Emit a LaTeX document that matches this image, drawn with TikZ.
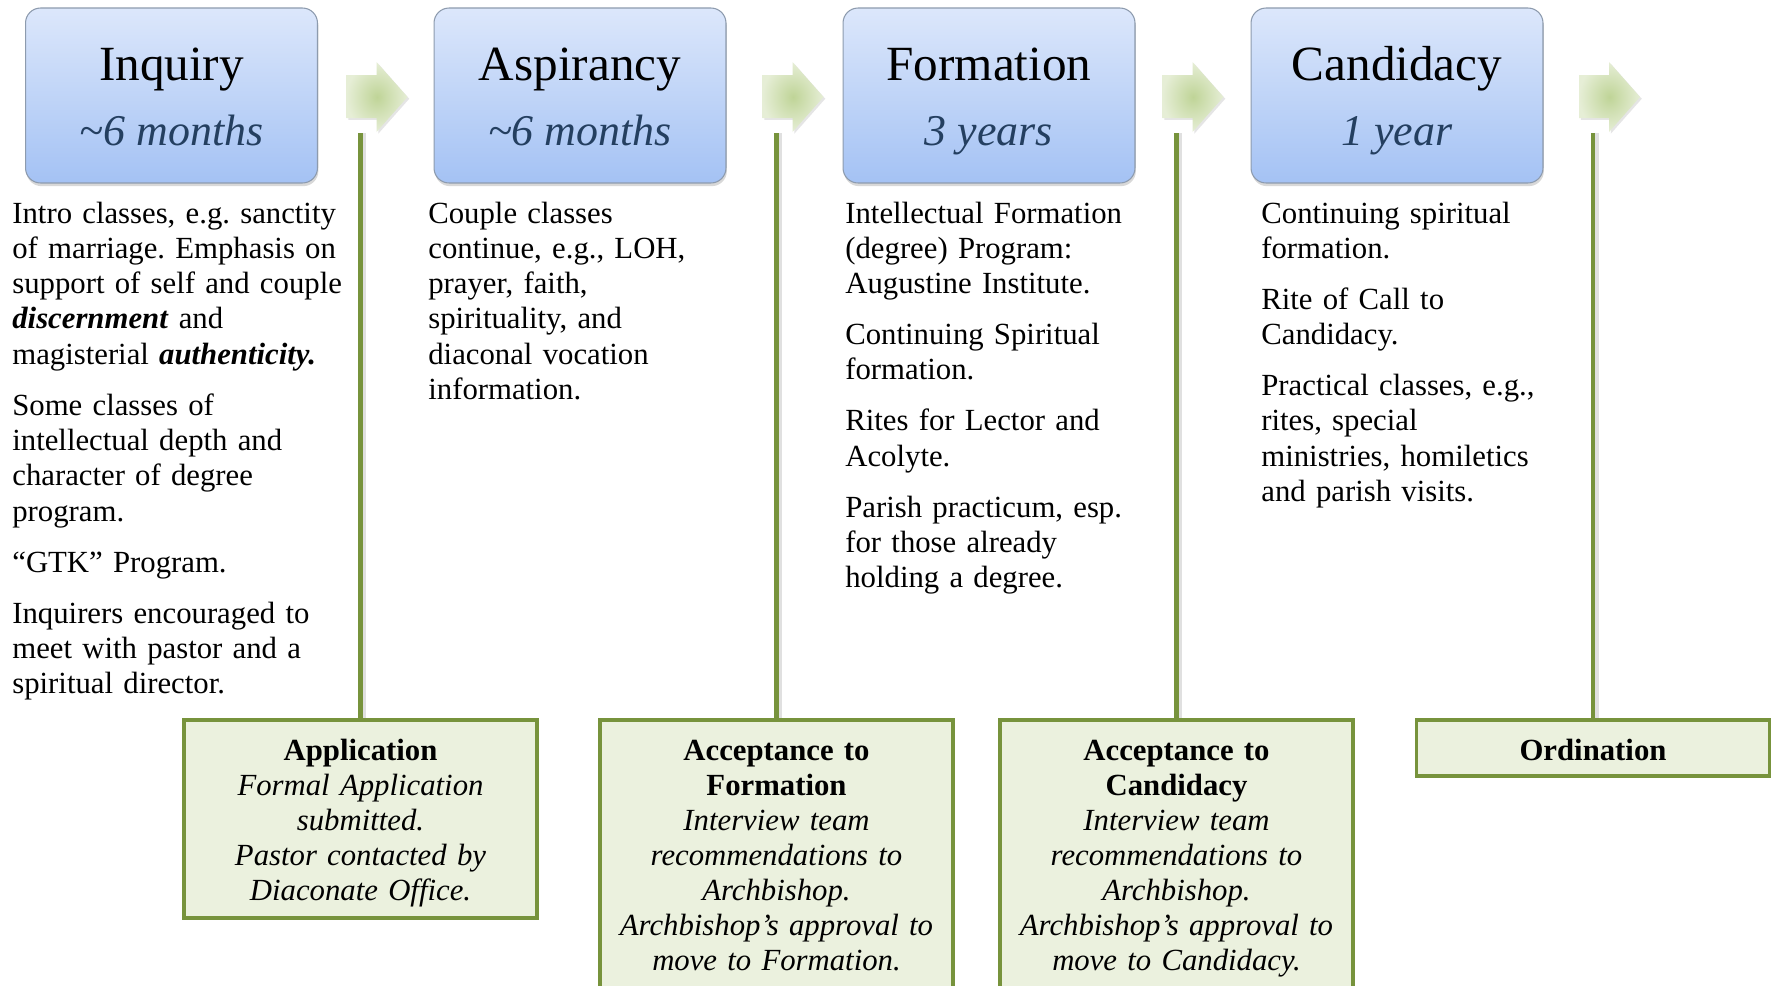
\documentclass[tikz,border=0pt]{standalone}
\usepackage{fontspec}
\setmainfont{Liberation Serif}
\usetikzlibrary{shadows,positioning}
\frenchspacing
\definecolor{stagetop}{HTML}{DCE7FB}
\definecolor{stagebot}{HTML}{A4C2F4}
\definecolor{stageline}{HTML}{8D9BAE}
\definecolor{durblue}{HTML}{243F60}
\definecolor{olive}{HTML}{77933C}
\definecolor{gatefill}{HTML}{EBF1DE}
\definecolor{arrowin}{HTML}{BFD497}
\definecolor{arrowout}{HTML}{E6EED6}
\newcommand{\pgap}{8.9pt}
\tikzset{
  stage/.style={rectangle,rounded corners=0.3cm,draw=stageline,line width=0.6pt,
    top color=stagetop,bottom color=stagebot,minimum width=5.84cm,minimum height=3.5cm,
    drop shadow={shadow xshift=0.5pt,shadow yshift=-1.8pt,opacity=0.3}},
  stagetitle/.style={anchor=base,inner sep=0pt,font=\fontsize{28}{32}\selectfont},
  stagedur/.style={anchor=base,inner sep=0pt,text=durblue,font=\fontsize{25}{30}\selectfont\itshape},
  body/.style={anchor=base west,inner sep=0pt,text width=7.6cm,align=left,
    font=\fontsize{17.5}{20.1}\selectfont},
  gate/.style={rectangle,draw=olive,line width=1.9pt,fill=gatefill,minimum width=7.06cm},
  gatetxt/.style={anchor=base,inner sep=0pt,text width=6.9cm,align=center,
    font=\fontsize{17.5}{20}\selectfont},
  tie/.style={draw=olive,line width=2.3pt,
    preaction={draw=black!12,line width=2.3pt,transform canvas={xshift=2pt}}},
  arrowtip/.style={inner color=arrowin,outer color=arrowout,
    drop shadow={shadow xshift=1pt,shadow yshift=-1pt,opacity=0.2}}
}
\begin{document}
\begin{tikzpicture}[x=0.02cm,y=-0.02cm]
  \clip (0,0) rectangle (1774,985);
  \fill[white] (0,0) rectangle (1774,985);

  % stages along the top
  \foreach \cx/\id/\name/\dur in {171.5/inq/Inquiry/\textasciitilde6 months,
      580/asp/Aspirancy/\textasciitilde6 months, 989/frm/Formation/3 years,
      1397/cnd/Candidacy/1 year}
  {
    \node[stage] (\id) at (\cx,95.5) {};
    \node[stagetitle] (\id-t) at (\cx,80) {\name};
    \node[stagedur] (\id-d) at (\cx,145) {\dur};
  }

  % arrows between stages
  \foreach \lx/\id in {360.5/a1, 776.5/a2, 1176.5/a3, 1593/a4}
  {
    \shade[arrowtip] (\lx-14,75) -- (\lx+16,75) -- (\lx+16,62) -- (\lx+47,97)
      -- (\lx+16,132) -- (\lx+16,118) -- (\lx-14,118) -- cycle;
    \coordinate (\id) at (\lx,133);
  }

  % what happens in each stage
  \node[body] (inq-b) at (12,223) {Intro classes, e.g. sanctity\\
    of marriage. Emphasis on\\
    support of self and couple\\
    \textbf{\textit{discernment}} and\\
    magisterial \textbf{\textit{authenticity.}}\\[\pgap]
    Some classes of\\
    intellectual depth and\\
    character of degree\\
    program.\\[\pgap]
    “GTK” Program.\\[\pgap]
    Inquirers encouraged to\\
    meet with pastor and a\\
    spiritual director.};
  \node[body] (asp-b) at (428,223) {Couple classes\\
    continue, e.g., LOH,\\
    prayer, faith,\\
    spirituality, and\\
    diaconal vocation\\
    information.};
  \node[body] (frm-b) at (845,223) {Intellectual Formation\\
    (degree) Program:\\
    Augustine Institute.\\[\pgap]
    Continuing Spiritual\\
    formation.\\[\pgap]
    Rites for Lector and\\
    Acolyte.\\[\pgap]
    Parish practicum, esp.\\
    for those already\\
    holding a degree.};
  \node[body] (cnd-b) at (1261,223) {Continuing spiritual\\
    formation.\\[\pgap]
    Rite of Call to\\
    Candidacy.\\[\pgap]
    Practical classes, e.g.,\\
    rites, special\\
    ministries, homiletics\\
    and parish visits.};

  % gates between stages
  \node[gate,minimum height=3.96cm] (app) at (360.5,819) {};
  \node[gate,minimum height=5.6cm] (acc-frm) at (776.5,860) {};
  \node[gate,minimum height=5.6cm] (acc-cnd) at (1176.5,860) {};
  \node[gate,minimum height=1.12cm] (ord) at (1593,748) {};

  \node[gatetxt] (app-t) at (360.5,760) {\textbf{Application}\\
    \itshape Formal Application\\
    submitted.\\
    Pastor contacted by\\
    Diaconate Office.};
  \node[gatetxt] (acc-frm-t) at (776.5,760) {\textbf{Acceptance to}\\
    \textbf{Formation}\\
    \itshape Interview team\\
    recommendations to\\
    Archbishop.\\
    Archbishop’s approval to\\
    move to Formation.};
  \node[gatetxt] (acc-cnd-t) at (1176.5,760) {\textbf{Acceptance to}\\
    \textbf{Candidacy}\\
    \itshape Interview team\\
    recommendations to\\
    Archbishop.\\
    Archbishop’s approval to\\
    move to Candidacy.};
  \node[gatetxt] (ord-t) at (1593,760) {\textbf{Ordination}};

  % ties from arrows down to gates
  \draw[tie] (a1) -- (app.north);
  \draw[tie] (a2) -- (acc-frm.north);
  \draw[tie] (a3) -- (acc-cnd.north);
  \draw[tie] (a4) -- (ord.north);
\end{tikzpicture}
\end{document}
